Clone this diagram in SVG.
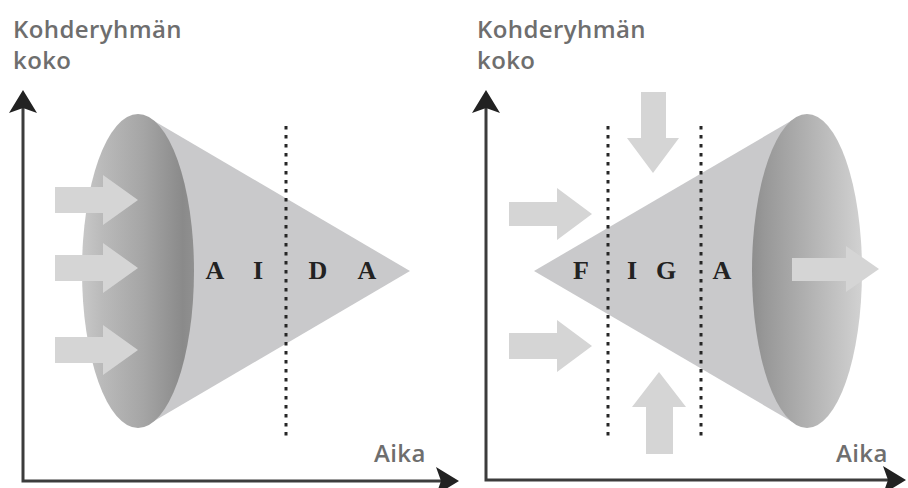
<svg xmlns="http://www.w3.org/2000/svg" width="908" height="488" viewBox="0 0 908 488">
  <style>
    .label { font-family: "Open Sans", "Liberation Sans", sans-serif; font-size: 24px; font-weight: 600; letter-spacing: 0.4px; fill: #6e6e6e; }
    .stage { font-family: "Liberation Serif", "DejaVu Serif", serif; font-size: 26px; font-weight: bold; fill: #222; text-anchor: middle; }
    .axis { stroke: #3c3c3c; stroke-width: 3; fill: none; }
    .head { fill: #222; }
    .cone { fill: #c9c9cb; }
    .flow { fill: #d5d5d5; }
    .divider { stroke: #262626; stroke-width: 3; stroke-dasharray: 3.5 5.5; fill: none; }
  </style>
  <defs>
    <linearGradient id="discLeft" x1="0" y1="0" x2="1" y2="0">
      <stop offset="0" stop-color="#c8c8c8"/>
      <stop offset="0.18" stop-color="#bababa"/>
      <stop offset="0.55" stop-color="#a5a5a5"/>
      <stop offset="0.9" stop-color="#8a8a8a"/>
      <stop offset="1" stop-color="#909090"/>
    </linearGradient>
    <linearGradient id="discRight" x1="0" y1="0" x2="1" y2="0">
      <stop offset="0" stop-color="#8e8e8e"/>
      <stop offset="0.12" stop-color="#989898"/>
      <stop offset="0.55" stop-color="#b4b4b4"/>
      <stop offset="0.9" stop-color="#cbcbcb"/>
      <stop offset="1" stop-color="#d2d2d2"/>
    </linearGradient>
  </defs>

  <!-- Left panel: AIDA funnel -->
  <g id="aida-axes">
    <polyline class="axis" points="23,104 23,481 446,481"/>
    <path class="head" d="M23,90 L37,113 L23,108 L9,113 Z"/>
    <path class="head" d="M459,481 L436,467 L441,481 L436,495 Z"/>
    <text class="label" x="13" y="38">Kohderyhmän</text>
    <text class="label" x="13" y="69">koko</text>
    <text class="label" x="374" y="462">Aika</text>
  </g>

  <g id="aida-funnel">
    <polygon class="cone" points="149,118 410,271 149,424"/>
    <ellipse cx="138" cy="271" rx="56" ry="157" fill="url(#discLeft)"/>
  </g>

  <g id="aida-inflow">
    <polygon class="flow" points="55,187 103,187 103,175 138,200 103,225 103,213 55,213"/>
    <polygon class="flow" points="55,255 103,255 103,243 138,268 103,293 103,281 55,281"/>
    <polygon class="flow" points="55,337 103,337 103,325 138,350 103,375 103,363 55,363"/>
  </g>

  <g id="aida-divider">
    <line class="divider" x1="286" y1="126" x2="286" y2="437"/>
  </g>

  <g id="aida-stages">
    <text class="stage" x="215" y="279">A</text>
    <text class="stage" x="258" y="279">I</text>
    <text class="stage" x="318" y="279">D</text>
    <text class="stage" x="367" y="279">A</text>
  </g>

  <!-- Right panel: FIGA funnel -->
  <g id="figa-axes">
    <polyline class="axis" points="486,104 486,480 892,480"/>
    <path class="head" d="M486,90 L500,113 L486,108 L472,113 Z"/>
    <path class="head" d="M906,480 L883,466 L888,480 L883,494 Z"/>
    <text class="label" x="477" y="38">Kohderyhmän</text>
    <text class="label" x="477" y="69">koko</text>
    <text class="label" x="836" y="462">Aika</text>
  </g>

  <g id="figa-funnel">
    <polygon class="cone" points="534,271 796,118 796,424"/>
    <ellipse cx="807" cy="271" rx="55" ry="157" fill="url(#discRight)"/>
  </g>

  <g id="figa-inflow">
    <polygon class="flow" points="509,202 557,202 557,188 592,214 557,240 557,226 509,226"/>
    <polygon class="flow" points="509,333 557,333 557,320 592,346 557,372 557,359 509,359"/>
    <polygon class="flow" points="641,92 666,92 666,138 679,138 653,173 627,138 641,138"/>
    <polygon class="flow" points="646,454 673,454 673,407 686,407 659,372 632,407 646,407"/>
  </g>

  <g id="figa-outflow">
    <polygon class="flow" points="792,258 846,258 846,246 879,269 846,292 846,281 792,281"/>
  </g>

  <g id="figa-dividers">
    <line class="divider" x1="608" y1="126" x2="608" y2="437"/>
    <line class="divider" x1="701" y1="126" x2="701" y2="437"/>
  </g>

  <g id="figa-stages">
    <text class="stage" x="581" y="279">F</text>
    <text class="stage" x="632" y="279">I</text>
    <text class="stage" x="666" y="279">G</text>
    <text class="stage" x="722" y="279">A</text>
  </g>
</svg>
